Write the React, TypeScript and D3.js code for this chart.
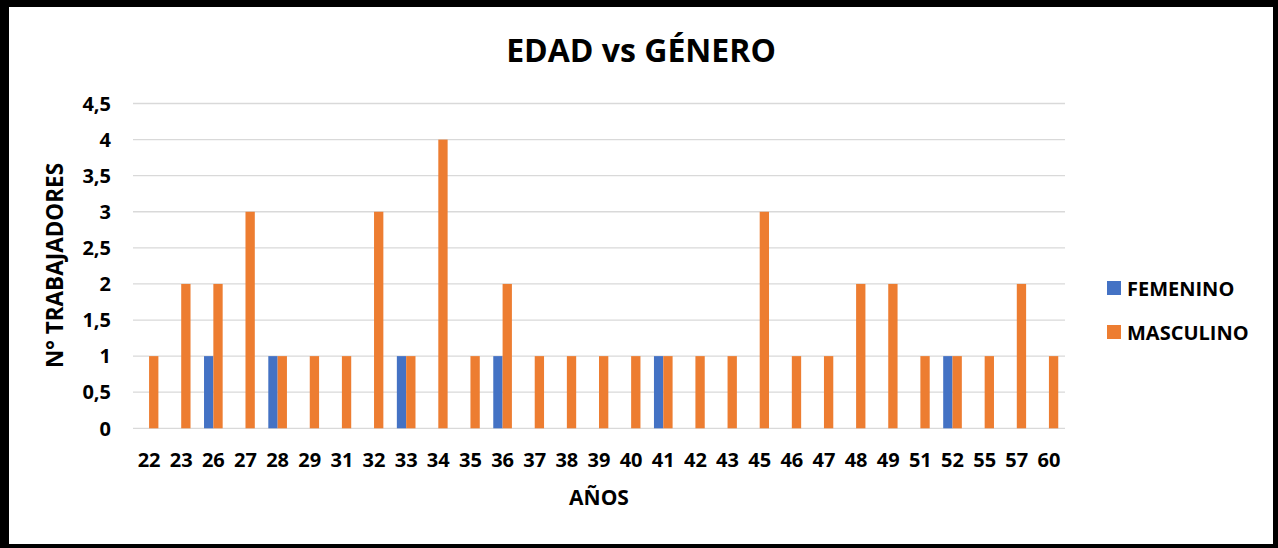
import React from "react";
import * as d3 from "d3";

const categories = ["22","23","26","27","28","29","31","32","33","34","35","36","37","38","39","40","41","42","43","45","46","47","48","49","51","52","55","57","60"];
const femenino = [0,0,1,0,1,0,0,0,1,0,0,1,0,0,0,0,1,0,0,0,0,0,0,0,0,1,0,0,0];
const masculino = [1,2,2,3,1,1,1,3,1,4,1,2,1,1,1,1,1,1,1,3,1,1,2,2,1,1,1,2,1];
const yTicks = [0,0.5,1,1.5,2,2.5,3,3.5,4,4.5];
const seriesNames = ["FEMENINO","MASCULINO"];
const colors = ["#4472C4","#ED7D31"];

const W = 1278, H = 548;
const FONT = "'Open Sans', sans-serif";

export default function App() {
  const left = 133, right = 1065, top = 103.5, bottom = 428.3;
  const x = d3.scaleBand<string>().domain(categories).range([left, right]).paddingInner(0).paddingOuter(0);
  const y = d3.scaleLinear().domain([0, 4.5]).range([bottom, top]);
  const bw = x.bandwidth() * 0.29;
  const fmt = (v: number) => String(v).replace(".", ",");
  const series = [femenino, masculino];
  return (
    <svg width={W} height={H} style={{ position: "absolute", left: 0, top: 0, display: "block" }} fontFamily={FONT}>
      <rect x={0} y={0} width={W} height={H} fill="#000" />
      <rect x={9} y={7} width={1264} height={537} fill="#fff" />
      <text x={641} y={62} textAnchor="middle" fontSize={32} fontWeight="bold" fill="#000">EDAD vs GÉNERO</text>
      {yTicks.map((t) => (
        <g key={t}>
          <line x1={left} x2={right} y1={y(t)} y2={y(t)} stroke="#d9d9d9" strokeWidth={1.3} />
          <text x={111} y={y(t)} dy="0.36em" textAnchor="end" fontSize={20} fontWeight="bold" fill="#000">{fmt(t)}</text>
        </g>
      ))}
      {categories.map((c, i) => {
        const cx = (x(c) as number) + x.bandwidth() / 2;
        return (
          <g key={c}>
            {series.map((s, k) => s[i] > 0 ? (
              <rect key={k} x={cx - bw + k * bw} y={y(s[i])} width={bw} height={y(0) - y(s[i])} fill={colors[k]} />
            ) : null)}
            <text x={cx} y={467} textAnchor="middle" fontSize={20} fontWeight="bold" fill="#000">{c}</text>
          </g>
        );
      })}
      <text x={599} y={505} textAnchor="middle" fontSize={21} fontWeight="bold" fill="#000">AÑOS</text>
      <text transform="translate(63,265.5) rotate(-90)" textAnchor="middle" fontSize={22.5} fontWeight="bold" fill="#000">N° TRABAJADORES</text>
      {seriesNames.map((n, k) => (
        <g key={n}>
          <rect x={1107} y={281 + k * 44} width={14} height={14} fill={colors[k]} />
          <text x={1127} y={295.5 + k * 44} fontSize={20} fontWeight="bold" fill="#000">{n}</text>
        </g>
      ))}
    </svg>
  );
}
